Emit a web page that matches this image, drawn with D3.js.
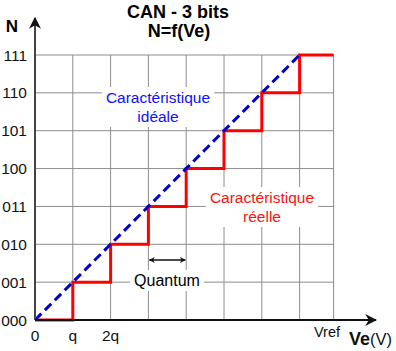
<!DOCTYPE html>
<html>
<head>
<meta charset="utf-8">
<script src="https://cdn.jsdelivr.net/npm/d3@7"></script>
<style>
  body { margin: 0; background: #fff; }
  svg { font-family: "Liberation Sans", Arial, sans-serif; }
</style>
</head>
<body>
<svg width="396" height="351"></svg>
<script>
// codes de sortie du CAN 3 bits
const codes = ['000', '001', '010', '011', '100', '101', '110', '111'];
// seuils de la caracteristique reelle (en quantums)
const seuils = [1, 2, 3, 4, 5, 6, 7];
// caracteristique ideale : deux points
const ideale = [[0, 0], [7, 7]];
const xLabels = [{v: 0, t: '0'}, {v: 1, t: 'q'}, {v: 2, t: '2q'}];
const vref = 7.9;

const svg = d3.select('svg');
const x = d3.scaleLinear().domain([0, 8]).range([35, 337.4]);
const y = d3.scaleLinear().domain([0, 7]).range([320, 55]);

// grille
const gGrid = svg.append('g').attr('stroke', '#8c8c8c').attr('stroke-width', 1);
d3.range(1, 8).concat([vref]).forEach(d => {
    gGrid.append('line')
        .attr('x1', x(d)).attr('x2', x(d))
        .attr('y1', y(0)).attr('y2', y(7));
});
d3.range(1, 8).forEach(d => {
    gGrid.append('line')
        .attr('x1', x(0)).attr('x2', x(vref))
        .attr('y1', y(d)).attr('y2', y(d));
});

// textes avec fond blanc (masquent la grille)
function label(lines, cx, y0, color, size) {
    const g = svg.append('g');
    const rect = g.append('rect').attr('fill', '#fff');
    const t = g.append('text').attr('text-anchor', 'middle')
        .attr('fill', color).style('font-size', size + 'px');
    lines.forEach((l, i) => {
        t.append('tspan').attr('x', cx).attr('y', y0 + i * 19).text(l);
    });
    const b = t.node().getBBox();
    rect.attr('x', b.x - 4).attr('y', b.y - 2)
        .attr('width', b.width + 8).attr('height', b.height + 4);
}
label(['Caractéristique', 'idéale'], 158, 103, '#1010ff', 15.5);
label(['Caractéristique', 'réelle'], 262, 203, '#ff1010', 15.5);
label(['Quantum'], 167, 286, '#000', 16);

// caracteristique reelle en escalier
const pts = [[0, 0]];
seuils.forEach((s, i) => { pts.push([s, i]); pts.push([s, i + 1]); });
pts.push([vref, 7]);
svg.append('path')
    .datum(pts)
    .attr('fill', 'none')
    .attr('stroke', '#ff0000')
    .attr('stroke-width', 3)
    .attr('d', d3.line().x(d => x(d[0])).y(d => y(d[1])));

// caracteristique ideale
svg.append('path')
    .datum(ideale)
    .attr('fill', 'none')
    .attr('stroke', '#0000cc')
    .attr('stroke-width', 3)
    .attr('stroke-dasharray', '9,5')
    .attr('d', d3.line().x(d => x(d[0])).y(d => y(d[1])));

// axes avec fleches
const defs = svg.append('defs');
defs.append('marker').attr('id', 'arr')
    .attr('viewBox', '0 0 10 10').attr('refX', 9).attr('refY', 5)
    .attr('markerWidth', 6).attr('markerHeight', 6).attr('orient', 'auto')
    .append('path').attr('d', 'M0,0 L10,5 L0,10 L3,5 Z').attr('fill', '#111');
defs.append('marker').attr('id', 'arr2')
    .attr('viewBox', '0 0 10 10').attr('refX', 9).attr('refY', 5)
    .attr('markerWidth', 4).attr('markerHeight', 4).attr('orient', 'auto-start-reverse')
    .append('path').attr('d', 'M0,0 L10,5 L0,10 L3,5 Z').attr('fill', '#111');

svg.append('line').attr('x1', x(0)).attr('x2', x(0))
    .attr('y1', y(0)).attr('y2', 18)
    .attr('stroke', '#444').attr('stroke-width', 2).attr('marker-end', 'url(#arr)');
svg.append('line').attr('x1', x(0)).attr('x2', 376)
    .attr('y1', y(0)).attr('y2', y(0))
    .attr('stroke', '#111').attr('stroke-width', 2).attr('marker-end', 'url(#arr)');

// fleche quantum
svg.append('line').attr('x1', x(3) + 1).attr('x2', x(4) - 1)
    .attr('y1', 260).attr('y2', 260)
    .attr('stroke', '#111').attr('stroke-width', 1.5)
    .attr('marker-start', 'url(#arr2)').attr('marker-end', 'url(#arr2)');

// etiquettes axe Y
svg.append('g').selectAll('text').data(codes).join('text')
    .attr('x', 27).attr('y', (d, i) => y(i) + 5.5)
    .attr('text-anchor', 'end').style('font-size', '15.5px').attr('fill', '#111')
    .text(d => d);

// etiquettes axe X
svg.append('g').selectAll('text').data(xLabels).join('text')
    .attr('x', d => x(d.v)).attr('y', 341)
    .attr('text-anchor', 'middle').style('font-size', '15.5px').attr('fill', '#111')
    .text(d => d.t);
svg.append('text').attr('x', 327).attr('y', 337)
    .attr('text-anchor', 'middle').style('font-size', '14.5px').attr('fill', '#111')
    .text('Vref');
const ve = svg.append('text').attr('x', 349).attr('y', 345).attr('fill', '#111');
ve.append('tspan').style('font-size', '18px').style('font-weight', 'bold').text('Ve');
ve.append('tspan').style('font-size', '16.5px').text('(V)');

svg.append('text').attr('x', 12).attr('y', 32)
    .attr('text-anchor', 'middle').style('font-size', '17px').style('font-weight', 'bold')
    .text('N');

// titre
svg.append('text').attr('x', 178).attr('y', 18)
    .attr('text-anchor', 'middle').style('font-size', '18px').style('font-weight', 'bold')
    .text('CAN - 3 bits');
svg.append('text').attr('x', 179).attr('y', 37)
    .attr('text-anchor', 'middle').style('font-size', '18px').style('font-weight', 'bold')
    .text('N=f(Ve)');
</script>
</body>
</html>
